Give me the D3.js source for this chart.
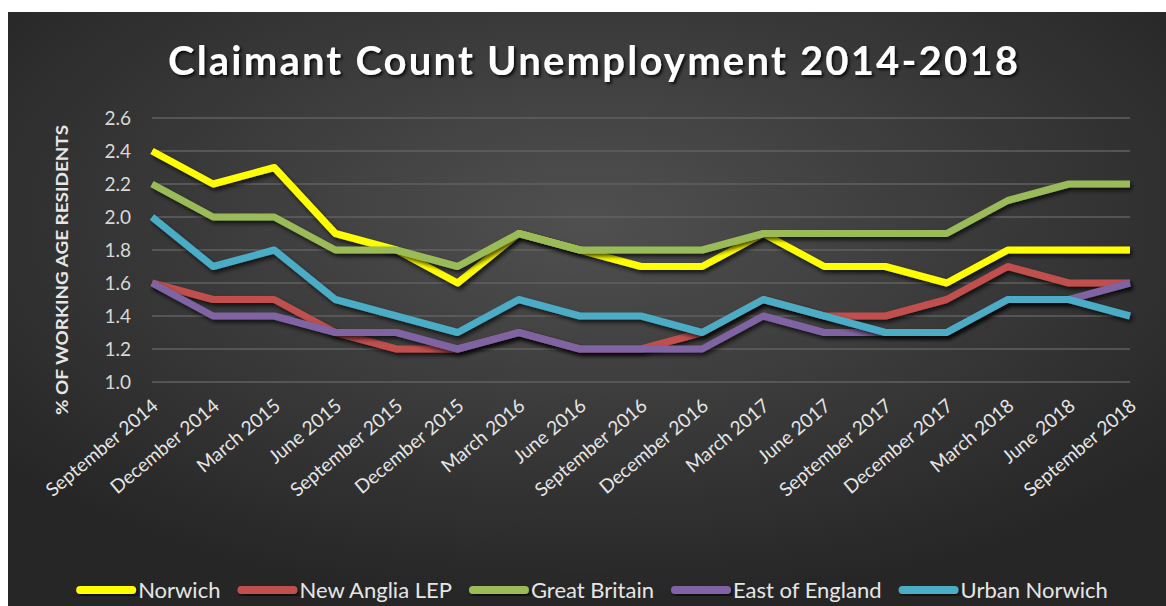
<!DOCTYPE html>
<html>
<head>
<meta charset="utf-8">
<script src="https://cdn.jsdelivr.net/npm/d3@7"></script>
<style>
  html, body { margin: 0; padding: 0; background: #fff; }
  svg { display: block; }
  text { font-family: Lato, "Open Sans", sans-serif; }
</style>
</head>
<body>
<div id="chart"></div>
<script>
// Quarterly categories
const quarters = [
  "September 2014", "December 2014", "March 2015", "June 2015",
  "September 2015", "December 2015", "March 2016", "June 2016",
  "September 2016", "December 2016", "March 2017", "June 2017",
  "September 2017", "December 2017", "March 2018", "June 2018",
  "September 2018"
];

// Series values (% of working age residents)
const norwich      = [2.4, 2.2, 2.3, 1.9, 1.8, 1.6, 1.9, 1.8, 1.7, 1.7, 1.9, 1.7, 1.7, 1.6, 1.8, 1.8, 1.8];
const newAnglia    = [1.6, 1.5, 1.5, 1.3, 1.2, 1.2, 1.3, 1.2, 1.2, 1.3, 1.5, 1.4, 1.4, 1.5, 1.7, 1.6, 1.6];
const greatBritain = [2.2, 2.0, 2.0, 1.8, 1.8, 1.7, 1.9, 1.8, 1.8, 1.8, 1.9, 1.9, 1.9, 1.9, 2.1, 2.2, 2.2];
const eastEngland  = [1.6, 1.4, 1.4, 1.3, 1.3, 1.2, 1.3, 1.2, 1.2, 1.2, 1.4, 1.3, 1.3, 1.3, 1.5, 1.5, 1.6];
const urbanNorwich = [2.0, 1.7, 1.8, 1.5, 1.4, 1.3, 1.5, 1.4, 1.4, 1.3, 1.5, 1.4, 1.3, 1.3, 1.5, 1.5, 1.4];

const seriesNames  = ["Norwich", "New Anglia LEP", "Great Britain", "East of England", "Urban Norwich"];
const seriesColors = ["#ffff00", "#c0504d", "#9bbb59", "#8064a2", "#4bacc6"];
const yTicks = [1.0, 1.2, 1.4, 1.6, 1.8, 2.0, 2.2, 2.4, 2.6];

const series = [norwich, newAnglia, greatBritain, eastEngland, urbanNorwich].map((values, i) => ({
  name: seriesNames[i],
  color: seriesColors[i],
  values: values
}));

const width = 1166, height = 606;

const svg = d3.select("#chart").append("svg")
  .attr("width", width)
  .attr("height", height);

const defs = svg.append("defs");

// background gradient
const grad = defs.append("radialGradient")
  .attr("id", "bg")
  .attr("cx", "50%").attr("cy", "35%").attr("r", "65%");
grad.append("stop").attr("offset", "0%").attr("stop-color", "#505050");
grad.append("stop").attr("offset", "100%").attr("stop-color", "#262626");

const shadow = defs.append("filter").attr("id", "shadow")
  .attr("x", "-10%").attr("y", "-10%").attr("width", "120%").attr("height", "130%");
shadow.append("feDropShadow")
  .attr("dx", 2).attr("dy", 3).attr("stdDeviation", 2)
  .attr("flood-color", "#000").attr("flood-opacity", 0.7);

const titleShadow = defs.append("filter").attr("id", "tshadow");
titleShadow.append("feDropShadow")
  .attr("dx", 2).attr("dy", 2).attr("stdDeviation", 1.5)
  .attr("flood-color", "#000").attr("flood-opacity", 0.8);

svg.append("rect")
  .attr("x", 8).attr("y", 12)
  .attr("width", width - 8).attr("height", height - 12)
  .attr("fill", "url(#bg)");

// scales
const x = d3.scalePoint().domain(quarters).range([152, 1130]);
const y = d3.scaleLinear().domain([1.0, 2.6]).range([382, 118]);

// gridlines
svg.append("g")
  .selectAll("line")
  .data(yTicks)
  .enter()
  .append("line")
  .attr("x1", 152).attr("x2", 1130)
  .attr("y1", d => y(d)).attr("y2", d => y(d))
  .attr("stroke", "#616161")
  .attr("stroke-width", 1.5);

// y axis
const yAxis = svg.append("g")
  .attr("transform", "translate(131,0)")
  .call(d3.axisLeft(y).tickValues(yTicks).tickFormat(d3.format(".1f")).tickSize(0));
yAxis.select(".domain").remove();
yAxis.selectAll("text")
  .attr("fill", "#d9d9d9")
  .style("font-size", "19px")
  .attr("x", 0)
  .attr("dy", "0.35em");

// x axis labels
const xAxis = svg.append("g")
  .attr("transform", "translate(0,382)")
  .call(d3.axisBottom(x).tickSize(0));
xAxis.select(".domain").remove();
xAxis.selectAll("text")
  .attr("fill", "#e6e6e6")
  .style("font-size", "19px")
  .attr("text-anchor", "end")
  .attr("y", 0)
  .attr("dy", 0)
  .attr("transform", "translate(7,26) rotate(-40)");

// y axis title
svg.append("text")
  .attr("transform", "translate(68,270) rotate(-90)")
  .attr("text-anchor", "middle")
  .attr("fill", "#e6e6e6")
  .style("font-size", "17px")
  .style("font-weight", "bold")
  .attr("textLength", 290)
  .attr("lengthAdjust", "spacingAndGlyphs")
  .text("% OF WORKING AGE RESIDENTS");

// title
svg.append("text")
  .attr("x", 593).attr("y", 75)
  .attr("text-anchor", "middle")
  .attr("fill", "#ffffff")
  .attr("filter", "url(#tshadow)")
  .style("font-size", "40px")
  .style("font-weight", "bold")
  .attr("textLength", 850)
  .attr("lengthAdjust", "spacing")
  .text("Claimant Count Unemployment 2014-2018");

// lines
const line = d3.line()
  .x((d, i) => x(quarters[i]))
  .y(d => y(d));

svg.append("g")
  .selectAll("path")
  .data(series)
  .enter()
  .append("path")
  .attr("d", d => line(d.values))
  .attr("fill", "none")
  .attr("stroke", d => d.color)
  .attr("stroke-width", 7)
  .attr("stroke-linejoin", "round")
  .attr("filter", "url(#shadow)");

// legend
const legend = svg.append("g").attr("transform", "translate(0,590)");
const items = legend.selectAll("g")
  .data(series)
  .enter()
  .append("g");
items.append("rect")
  .attr("x", 0).attr("y", -4)
  .attr("width", 60).attr("height", 8)
  .attr("rx", 4)
  .attr("fill", d => d.color)
  .attr("filter", "url(#shadow)");
items.append("text")
  .attr("x", 62)
  .attr("dy", "0.35em")
  .attr("fill", "#e6e6e6")
  .style("font-size", "22px")
  .text(d => d.name);

// lay legend items out one after another, centred
const widths = [];
items.each(function() {
  const w = 62 + d3.select(this).select("text").node().getComputedTextLength();
  widths.push(w);
});
const gap = 17;
const total = d3.sum(widths) + gap * (widths.length - 1);
let offset = 592 - total / 2;
items.each(function(d, i) {
  d3.select(this).attr("transform", `translate(${offset},0)`);
  offset += widths[i] + gap;
});
</script>
</body>
</html>
